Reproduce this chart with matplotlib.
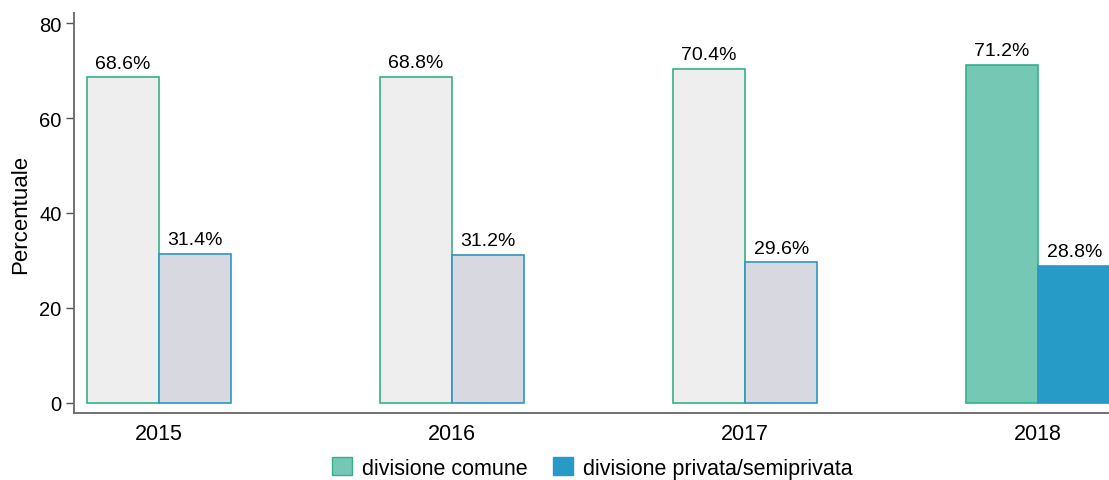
import matplotlib.pyplot as plt
from matplotlib.patches import Patch
import numpy as np

plt.rcParams['font.family'] = ['Liberation Sans', 'DejaVu Sans']

anni = ['2015', '2016', '2017', '2018']
comune = [68.6, 68.8, 70.4, 71.2]
privata = [31.4, 31.2, 29.6, 28.8]
serie = ['divisione comune', 'divisione privata/semiprivata']

VERDE = '#75c8b4'
VERDE_BORDO = '#35b08c'
BLU = '#279bc8'
BLU_BORDO = '#2d96c4'
GRIGIO = '#eeeeee'
GRIGIO_VIOLA = '#d8d8e1'

fig = plt.figure(figsize=(11.09, 4.81), dpi=100)
ax = fig.add_axes([0.0667, 0.1393, 0.9333, 0.8316])

x = np.arange(len(anni))
w = 0.247
# only the last year is highlighted, previous ones are greyed out
for i in range(len(anni)):
    ultimo = i == len(anni) - 1
    ax.bar(x[i] - w / 2, comune[i], w, color=VERDE if ultimo else GRIGIO,
           edgecolor=VERDE_BORDO, linewidth=1.2)
    ax.bar(x[i] + w / 2, privata[i], w, color=BLU if ultimo else GRIGIO_VIOLA,
           edgecolor=BLU_BORDO, linewidth=1.2)
    ax.text(x[i] - w / 2, comune[i] + 1.2, '%.1f%%' % comune[i],
            ha='center', va='bottom', fontsize=14)
    ax.text(x[i] + w / 2, privata[i] + 1.2, '%.1f%%' % privata[i],
            ha='center', va='bottom', fontsize=14)

ax.set_xlim(-0.29, 3.242)
ax.set_ylim(-2.2, 82.2)
ax.set_yticks([0, 20, 40, 60, 80])
ax.set_xticks(x)
ax.set_xticklabels(anni)
ax.tick_params(axis='x', length=0, labelsize=15.5, pad=7)
ax.tick_params(axis='y', length=6, width=1, color='#555555', labelsize=14.5, pad=3)
ax.set_ylabel('Percentuale', fontsize=16, labelpad=6)

for s in ['top', 'right']:
    ax.spines[s].set_visible(False)
for s in ['left', 'bottom']:
    ax.spines[s].set_color('#666666')
    ax.spines[s].set_linewidth(1.3)

handles = [Patch(facecolor=VERDE, edgecolor=VERDE_BORDO),
           Patch(facecolor=BLU, edgecolor=BLU_BORDO)]
fig.legend(handles, serie, loc='center', bbox_to_anchor=(0.534, 0.025),
           ncol=2, frameon=False, fontsize=15.5, handlelength=0.93,
           handleheight=0.93, columnspacing=1.16, handletextpad=0.47)

fig.savefig('out.png', dpi=100)
